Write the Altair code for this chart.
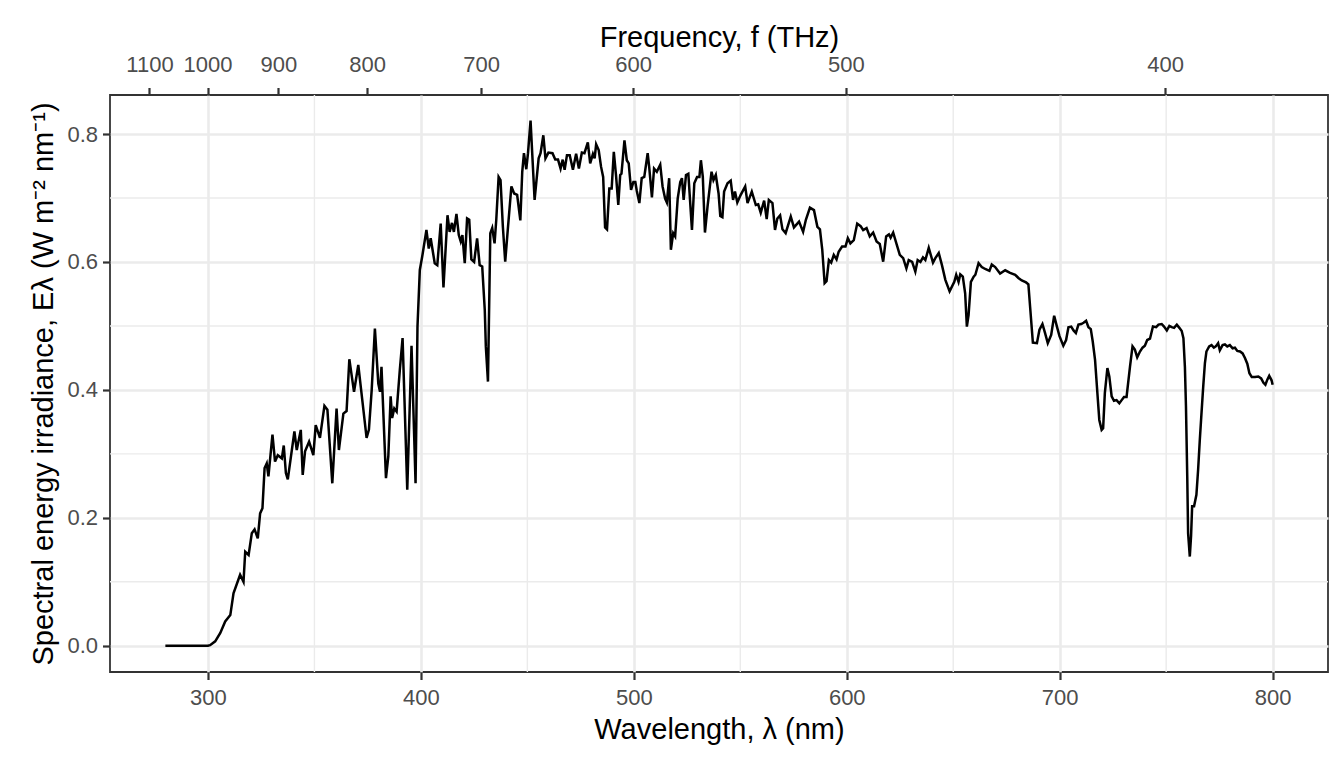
import altair as alt
import pandas as pd

# Wavelength (nm) and spectral energy irradiance (W m-2 nm-1)
wavelength = [
    280, 285, 290, 295, 300, 301, 303.4, 305.8, 308.1, 310.5, 312, 315.1, 316.7, 317.5, 319.1,
    320.6, 321.9, 323.4, 324.5, 325.6, 326.6, 327.6, 328.4, 330.3, 331.5, 332.8, 334.7, 335.6,
    336.6, 337.5, 340.6, 341.7, 343.6, 344.5, 345.6, 347.5, 349.5, 350.6, 352.6, 354.7, 356.1,
    358.4, 360.4, 361.5, 363.6, 365.1, 366.4, 368.6, 370.6, 374.5, 375.6, 376.9, 378.4, 380,
    380.8, 381.5, 383.6, 384.7, 385.8, 386.5, 387.5, 388.6, 390.1, 391.4, 393.6, 395.6, 397.5,
    398.4, 399.5, 400.6, 402.6, 403.7, 404.6, 406.5, 407.7, 409.3, 410.6, 412.5, 413.5, 414.6,
    415.5, 416.7, 417.8, 418.7, 419.5, 420.6, 421.7, 422.7, 423.7, 425, 426.4, 427.6, 428.8,
    430, 430.5, 431.5, 432.6, 433.5, 434.6, 435.4, 436.5, 437.4, 438.5, 439.6, 440.8, 442.5,
    443.8, 445.2, 446.7, 447.6, 448.4, 449.5, 450.3, 451.5, 453.4, 455.3, 456.2, 457.5, 458.5,
    459.9, 461.8, 463.1, 464.4, 465.6, 466.6, 467.5, 468.6, 469.9, 471.4, 472.9, 474.2, 475.6,
    476.8, 478.4, 479.5, 480.8, 481.6, 482.3, 483.5, 484.6, 485.6, 486.5, 487.4, 488.5, 489.6,
    490.6, 491.7, 492.7, 493.6, 494.2, 495.6, 496.7, 497.6, 498.7, 499.8, 500.7, 501.4, 502.6,
    503.7, 504.9, 506.5, 507.2, 508.5, 509.5, 510.8, 512.4, 513.5, 514.7, 515.5, 516.6, 517.4,
    518.5, 519.4, 520.6, 521.8, 522.6, 523.4, 524.5, 525.6, 527.3, 528.4, 529.7, 530.8, 531.5,
    532.4, 533.4, 534.6, 536.5, 537.4, 538.5, 539.8, 540.6, 541.6, 542.4, 544, 545.5, 546.6,
    547.5, 548.6, 550.2, 552.3, 553.4, 555.4, 557.3, 558.4, 559.6, 561.2, 562.4, 563.4, 565.1,
    566.3, 567.4, 568.7, 569.8, 571.3, 573.7, 575.2, 577.6, 579.5, 580.8, 582.7, 584.6, 586.2,
    587.4, 588.5, 589.6, 590.5, 591.6, 592.7, 593.9, 595.2, 596.2, 597.8, 599.4, 600.5, 601.7,
    603.3, 604.9, 606.5, 607.7, 609.3, 610.8, 612.4, 614, 615.5, 617.1, 618.5, 619.8, 620.6,
    621.8, 623.4, 624.9, 626.5, 628, 629.1, 630.7, 632.2, 633.3, 634.6, 635.8, 636.9, 638.5,
    640.5, 641.6, 643.2, 644.7, 646.3, 648.3, 650.5, 651.4, 652.5, 653.3, 654.5, 655.6, 656.4,
    657.2, 658.3, 659.6, 660.4, 661.9, 663.4, 665, 667, 668.1, 669.7, 672, 674.4, 676.7, 679.1,
    680.6, 682.2, 684.2, 685.3, 686.1, 687.4, 689.3, 690.5, 691.9, 693.1, 694.4, 696, 697.4,
    698.7, 699.9, 701.7, 703, 704.1, 705.4, 706.5, 707.6, 708.8, 710.1, 711.2, 712.4, 713.5,
    714.6, 715.5, 716.6, 717.7, 718.6, 719.7, 720.4, 721.2, 722.4, 723.3, 724.4, 725.5, 726.7,
    728, 729.1, 730.2, 731.4, 733, 734.2, 735.3, 736.4, 737.7, 738.9, 740, 741.1, 742.4, 743.8,
    745.3, 746.4, 747.9, 749, 750.3, 751.5, 752.6, 753.7, 755, 756.2, 757.3, 758.1, 758.8,
    759.3, 759.9, 760.3, 761.1, 761.7, 762.2, 763.1, 764.2, 765, 765.8, 766.6, 767.4, 768.2,
    768.9, 770.2, 771.3, 772.4, 773.3, 774.4, 775.2, 776.5, 777.6, 778.7, 779.9, 781.2, 782.3,
    783.4, 784.7, 785.9, 787, 788.1, 789.1, 790.2, 791.7, 793.3, 794.6, 795.7, 796.6, 797.5,
    798.4, 799.5, 800,
]
irradiance = [
    0, 0, 0, 0, 0, 0.001, 0.007, 0.02, 0.038, 0.048, 0.082, 0.111, 0.10, 0.147, 0.142,
    0.176, 0.182, 0.168, 0.207, 0.215, 0.278, 0.285, 0.265, 0.33, 0.288, 0.298, 0.293, 0.313,
    0.27, 0.26, 0.335, 0.306, 0.3375, 0.267, 0.304, 0.319, 0.298, 0.345, 0.325, 0.375, 0.369,
    0.254, 0.371, 0.306, 0.363, 0.367, 0.448, 0.397, 0.439, 0.325, 0.338, 0.4, 0.496, 0.41,
    0.397, 0.436, 0.262, 0.296, 0.39, 0.356, 0.371, 0.366, 0.431, 0.481, 0.244, 0.469, 0.254,
    0.499, 0.5875, 0.608, 0.65, 0.621, 0.637, 0.598, 0.595, 0.66, 0.56, 0.673, 0.647, 0.661,
    0.647, 0.675, 0.642, 0.632, 0.642, 0.598, 0.668, 0.666, 0.604, 0.6, 0.637, 0.595, 0.593,
    0.525, 0.468, 0.413, 0.645, 0.653, 0.629, 0.666, 0.733, 0.728, 0.655, 0.6005, 0.65, 0.718,
    0.707, 0.705, 0.665, 0.741, 0.77, 0.745, 0.77, 0.821, 0.697, 0.762, 0.77, 0.798, 0.762,
    0.771, 0.77, 0.76, 0.76, 0.746, 0.76, 0.744, 0.767, 0.767, 0.744, 0.769, 0.746, 0.771,
    0.77, 0.787, 0.754, 0.769, 0.762, 0.784, 0.775, 0.749, 0.733, 0.654, 0.651, 0.715, 0.715,
    0.772, 0.733, 0.689, 0.736, 0.738, 0.79, 0.759, 0.754, 0.7125, 0.725, 0.725, 0.711, 0.692,
    0.731, 0.733, 0.77, 0.749, 0.701, 0.746, 0.741, 0.752, 0.718, 0.699, 0.693, 0.731, 0.619,
    0.645, 0.64, 0.699, 0.725, 0.731, 0.697, 0.736, 0.738, 0.65, 0.723, 0.733, 0.733, 0.759,
    0.733, 0.646, 0.686, 0.741, 0.728, 0.736, 0.707, 0.672, 0.67, 0.71, 0.723, 0.727, 0.697,
    0.71, 0.693, 0.705, 0.718, 0.692, 0.71, 0.689, 0.69, 0.677, 0.696, 0.667, 0.697, 0.692,
    0.65, 0.668, 0.673, 0.651, 0.645, 0.671, 0.654, 0.663, 0.647, 0.666, 0.685, 0.681, 0.655,
    0.651, 0.619, 0.567, 0.57, 0.603, 0.599, 0.611, 0.604, 0.616, 0.624, 0.624, 0.637, 0.629,
    0.634, 0.66, 0.656, 0.65, 0.653, 0.64, 0.646, 0.632, 0.628, 0.6005, 0.64, 0.643, 0.638,
    0.646, 0.628, 0.611, 0.606, 0.59, 0.603, 0.6, 0.585, 0.603, 0.6, 0.607, 0.603, 0.622,
    0.599, 0.606, 0.614, 0.595, 0.572, 0.554, 0.569, 0.58, 0.569, 0.5805, 0.577, 0.551, 0.499,
    0.517, 0.569, 0.577, 0.58, 0.598, 0.592, 0.589, 0.586, 0.596, 0.592, 0.582, 0.587, 0.583, 0.58,
    0.575, 0.571, 0.568, 0.565, 0.53, 0.474, 0.473, 0.494, 0.503, 0.489, 0.473, 0.486, 0.516,
    0.499, 0.484, 0.469, 0.478, 0.498, 0.499, 0.493, 0.489, 0.502, 0.503, 0.505, 0.508, 0.498,
    0.495, 0.476, 0.447, 0.395, 0.353, 0.3375, 0.34, 0.395, 0.434, 0.421, 0.39, 0.383, 0.384,
    0.379, 0.384, 0.389, 0.389, 0.436, 0.468, 0.463, 0.451, 0.46, 0.466, 0.469, 0.478, 0.48, 0.499,
    0.498, 0.502, 0.503, 0.499, 0.493, 0.5, 0.498, 0.497, 0.502, 0.497, 0.492, 0.481, 0.436,
    0.374, 0.265, 0.176, 0.1395, 0.172, 0.218, 0.218, 0.236, 0.275, 0.322, 0.364, 0.405, 0.442,
    0.46, 0.468, 0.47, 0.466, 0.468, 0.473, 0.462, 0.47, 0.471, 0.468, 0.47, 0.465, 0.466,
    0.461, 0.46, 0.457, 0.45, 0.441, 0.426, 0.42, 0.42, 0.421, 0.418, 0.411, 0.408, 0.416,
    0.422, 0.415, 0.408,
]

freq_ticks_THz = [400, 500, 600, 700, 800, 900, 1000, 1100]
x_major = [300, 400, 500, 600, 700, 800]
x_minor = [350, 450, 550, 650, 750]
y_major = [0.0, 0.2, 0.4, 0.6, 0.8]
y_minor = [0.1, 0.3, 0.5, 0.7]

C_NM_THZ = 299792.458
freq_positions = [C_NM_THZ / f for f in freq_ticks_THz]

FONT = "Liberation Sans"
GRID = "#EBEBEB"
DARK = "#333333"
W, H = 1218, 577

df = pd.DataFrame({"wl": wavelength, "E": irradiance})
xscale = alt.Scale(domain=[254, 826], nice=False, zero=False)
yscale = alt.Scale(domain=[-0.041, 0.861], nice=False, zero=False)

minor_x = alt.Chart(pd.DataFrame({"x": x_minor})).mark_rule(
    color=GRID, strokeWidth=1.4
).encode(x=alt.X("x:Q", scale=xscale, axis=None))

minor_y = alt.Chart(pd.DataFrame({"y": y_minor})).mark_rule(
    color=GRID, strokeWidth=1.4
).encode(y=alt.Y("y:Q", scale=yscale, axis=None))

line = alt.Chart(df).mark_line(color="black", strokeWidth=2.5).encode(
    x=alt.X(
        "wl:Q",
        scale=xscale,
        axis=alt.Axis(
            orient="bottom",
            values=x_major,
            format="d",
            grid=True,
            gridColor=GRID,
            gridWidth=2.6,
            domain=False,
            tickColor=DARK,
            tickWidth=2.2,
            tickSize=7.5,
            labelFont=FONT,
            labelFontSize=22,
            labelColor="#4D4D4D",
            labelBaseline="alphabetic",
            labelPadding=25,
            title="Wavelength, λ (nm)",
            titleFont=FONT,
            titleFontSize=29,
            titleFontWeight="normal",
            titleColor="black",
            titleBaseline="alphabetic",
            titleX=W / 2,
            titleY=66,
        ),
    ),
    y=alt.Y(
        "E:Q",
        scale=yscale,
        axis=alt.Axis(
            values=y_major,
            format=".1f",
            grid=True,
            gridColor=GRID,
            gridWidth=2.6,
            domain=False,
            tickColor=DARK,
            tickWidth=2.2,
            tickSize=7.5,
            labelFont=FONT,
            labelFontSize=22,
            labelColor="#4D4D4D",
            labelPadding=5,
            title="Spectral energy irradiance, Eλ (W m⁻² nm⁻¹)",
            titleFont=FONT,
            titleFontSize=29,
            titleFontWeight="normal",
            titleColor="black",
            titleBaseline="alphabetic",
            titleAngle=270,
            titleX=-58,
            titleY=H / 2,
        ),
    ),
)

top = alt.Chart(df).mark_line(opacity=0).encode(
    x=alt.X(
        "wl:Q",
        scale=xscale,
        axis=alt.Axis(
            orient="top",
            values=freq_positions,
            labelExpr="format(299792.458 / datum.value, '.0f')",
            grid=False,
            domain=False,
            tickColor=DARK,
            tickWidth=2.2,
            tickSize=7.5,
            labelFont=FONT,
            labelFontSize=22,
            labelColor="#4D4D4D",
            labelBaseline="alphabetic",
            labelPadding=16,
            title="Frequency, f (THz)",
            titleFont=FONT,
            titleFontSize=29,
            titleFontWeight="normal",
            titleColor="black",
            titleBaseline="alphabetic",
            titleX=W / 2,
            titleY=-49,
        ),
    ),
    y=alt.Y("E:Q", scale=yscale, axis=None),
)

chart = (
    alt.layer(minor_x, minor_y, line, top)
    .resolve_scale(x="shared", y="shared")
    .resolve_axis(x="independent", y="independent")
    .properties(
        width=W,
        height=H,
        autosize=alt.AutoSizeParams(type="none"),
        padding={"left": 102, "top": 87, "right": 8, "bottom": 80},
        background="white",
    )
    .configure_view(stroke=DARK, strokeWidth=1.8)
)

chart.save("out.html", embed_options={"renderer": "svg", "actions": False})
